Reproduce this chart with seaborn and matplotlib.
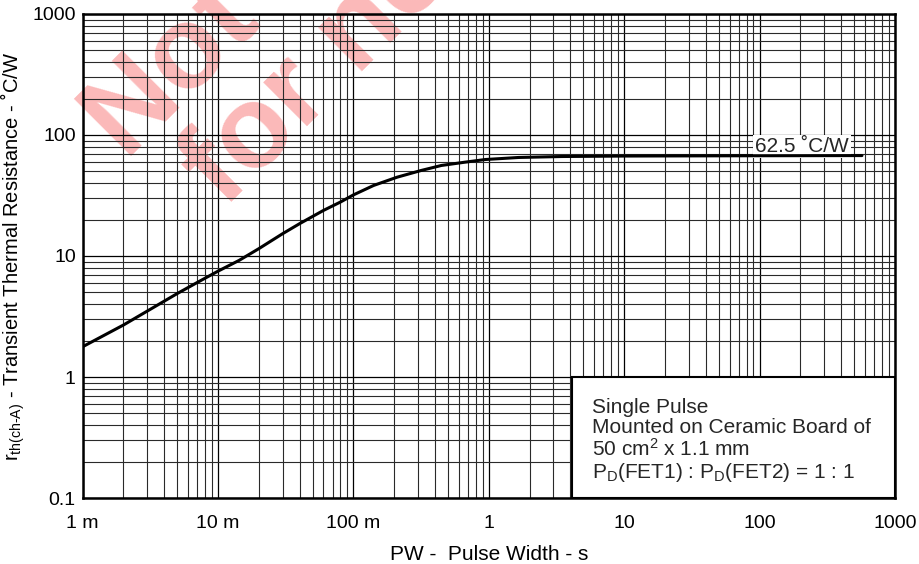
import numpy as np
import pandas as pd
import matplotlib.pyplot as plt
import seaborn as sns
from matplotlib.ticker import LogLocator, NullFormatter, FixedLocator, FixedFormatter
from matplotlib.patches import Rectangle

# curve
pulse_width = [0.001, 0.002, 0.005, 0.0072, 0.01, 0.0143, 0.02, 0.03, 0.04, 0.06,
               0.08, 0.1, 0.141, 0.21, 0.316, 0.446, 0.665, 0.94, 1.66, 3.47,
               10, 100, 570]
r_th = [1.78, 2.69, 4.9, 6.14, 7.5, 9.2, 11.5, 15.3, 18.5, 23.8,
        27.9, 32.0, 38.3, 44.8, 50.9, 56.0, 59.6, 62.7, 65.2, 66.4,
        67.0, 67.4, 67.6]

x_ticks = [1e-3, 1e-2, 1e-1, 1, 10, 100, 1000]
x_labels = ['1 m', '10 m', '100 m', '1', '10', '100', '1000']
y_ticks = [0.1, 1, 10, 100, 1000]
y_labels = ['0.1', '1', '10', '100', '1000']

note_lines = ['Single Pulse',
              'Mounted on Ceramic Board of',
              '50 cm$^{\\mathregular{2}}$ x 1.1 mm',
              'P$_{\\mathregular{D}}$(FET1) : P$_{\\mathregular{D}}$(FET2) = 1 : 1']

df = pd.DataFrame({'pw': pulse_width, 'r': r_th})

sns.set_theme(style='white')
plt.rcParams['font.family'] = ['Liberation Sans', 'DejaVu Sans']
plt.rcParams['mathtext.default'] = 'regular'

fig = plt.figure(figsize=(9.19, 5.64), dpi=100)
ax = fig.add_axes([0.09, 0.117, 0.8839, 0.8582])

# watermark, under the grid
wm = dict(fontsize=84, fontweight='bold', color='#FBB9B9', rotation=45,
          rotation_mode='anchor', ha='left', va='baseline',
          transform=fig.transFigure, clip_on=False, zorder=0.1)
ax.text(124 / 919, 1 - 156 / 564, 'Not', **wm)
ax.text(224 / 919, 1 - 209 / 564, 'for new design', **wm)

sns.lineplot(data=df, x='pw', y='r', ax=ax, color='black', lw=2.2,
             sort=False, estimator=None, zorder=3)

ax.set_xscale('log')
ax.set_yscale('log')
ax.set_xlim(1e-3, 1e3)
ax.set_ylim(0.1, 1000)

ax.xaxis.set_major_locator(FixedLocator(x_ticks))
ax.xaxis.set_major_formatter(FixedFormatter(x_labels))
ax.yaxis.set_major_locator(FixedLocator(y_ticks))
ax.yaxis.set_major_formatter(FixedFormatter(y_labels))
for axis in (ax.xaxis, ax.yaxis):
    axis.set_minor_locator(LogLocator(base=10, subs=np.arange(2, 10), numticks=20))
    axis.set_minor_formatter(NullFormatter())

ax.grid(which='major', color='black', lw=0.9)
ax.grid(which='minor', color='#2a2a2a', lw=0.8)
ax.tick_params(which='both', length=0, labelsize=14, colors='black')
ax.tick_params(axis='x', pad=12)
ax.tick_params(axis='y', pad=5)

for s in ax.spines.values():
    s.set_color('black')
    s.set_linewidth(1.8)
    s.set_zorder(6)

ax.set_xlabel('PW -  Pulse Width - s', fontsize=15, color='black')
ax.set_ylabel('r$_{\\mathregular{th(ch\u2010A)}}$ - Transient Thermal Resistance - \u02daC/W',
              fontsize=14.5, color='black')
ax.xaxis.set_label_coords(0.5, -0.097)
ax.yaxis.set_label_coords(-0.068, 0.5)

ax.text(92, 72, '62.5 \u02daC/W', fontsize=15, ha='left', va='baseline',
        bbox=dict(facecolor='white', edgecolor='none', pad=1.5), zorder=2.8)

ax.add_patch(Rectangle((0.602, 0), 0.398, 0.25, transform=ax.transAxes,
                       facecolor='white', edgecolor='black', lw=1.5, zorder=4))
ax.text(0.627, 0.207, '\n'.join(note_lines), transform=ax.transAxes,
        fontsize=15, ha='left', va='top', linespacing=1.07, zorder=5)

fig.savefig('out.png', dpi=100)
